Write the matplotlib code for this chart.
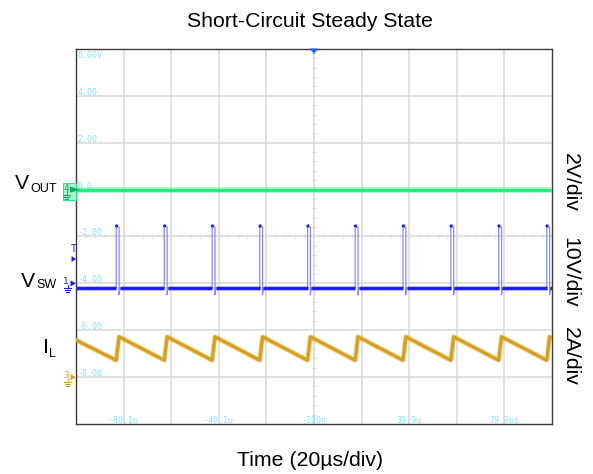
import numpy as np
import matplotlib
matplotlib.use("Agg")
import matplotlib.pyplot as plt
from matplotlib.transforms import Affine2D
from matplotlib.patches import Polygon, Rectangle

# ---- timebase / channel setup ----
time_div_us = 20.0
x_divs = 10
y_divs = 8

ch4_scale_v = 2.0      # VOUT, 2V/div
ch1_scale_v = 10.0     # VSW, 10V/div
ch3_scale_a = 2.0      # IL, 2A/div
ch4_offset_div = 1.0
ch1_offset_div = -1.0
ch3_offset_div = -3.0
trigger_level_v = 5.2

grid_labels = ["6.00V", "4.00", "2.00", "0.0", "-2.00", "-4.00", "-6.00", "-8.00"]
time_labels = ["-80.1u", "-40.1u", "-100n", "39.9u", "79.9us"]
time_label_pos_us = [-80, -40, 0, 40, 80]

# ---- switching events ----
sw_rise_us = [-83.1, -62.9, -42.8, -22.8, -2.7, 17.3, 37.4, 57.5, 77.6, 97.8]
on_time_us = 1.2
vsw_low_v = -1.0
vsw_high_v = 12.0
vsw_overshoot_v = 12.5
vsw_undershoot_v = -2.4

# ---- inductor current corners ----
il_start_a = 1.58
il_valley_a = 0.72
il_peak_a = 1.72
il_end_a = 1.67

vout_v = 0.0

# ---- colours ----
c_green = "#1ef07c"
c_blue = "#1a1aff"
c_blue_edge = "#8a8aff"
c_gold = "#d6a21c"
c_label = "#86e4ee"
c_grid = "#d8d8d8"
c_frame = "#3a3a3a"

DPI = 100
W, H = 593, 474
fig = plt.figure(figsize=(W / DPI, H / DPI), dpi=DPI)
fig.patch.set_facecolor("white")

x_min = -time_div_us * x_divs / 2
x_max = time_div_us * x_divs / 2
ax = fig.add_axes([76 / W, 1 - 424 / H, (552 - 76) / W, (424 - 49) / H])
ax.set_xlim(x_min, x_max)
ax.set_ylim(-y_divs / 2, y_divs / 2)
ax.set_xticks([])
ax.set_yticks([])
for s in ax.spines.values():
    s.set_color(c_frame)
    s.set_linewidth(1.0)

# graticule
for gx in np.arange(x_min + time_div_us, x_max, time_div_us):
    ax.axvline(gx, color=c_grid, lw=1.1, zorder=0)
for gy in np.arange(-y_divs / 2 + 1, y_divs / 2, 1):
    ax.axhline(gy, color=c_grid, lw=1.1, zorder=0)
# centre rulers with minor ticks
ax.plot(np.zeros(41), np.arange(-4, 4.01, 0.2), ls="none", marker="_",
        ms=3, mew=0.9, color="#dadada", zorder=0)
ax.plot(np.arange(x_min, x_max + 0.1, 4.0), np.zeros(51), ls="none", marker="|",
        ms=3, mew=0.9, color="#dadada", zorder=0)

# on-screen scale labels
for i, lab in enumerate(grid_labels):
    gy = y_divs / 2 - i
    yy = gy - 0.13 if i == 0 else gy + 0.075
    ax.text(x_min + 0.6, yy, lab, fontsize=6, family="DejaVu Sans Mono",
            color=c_label, va="center", ha="left", zorder=1)
for t, lab in zip(time_label_pos_us, time_labels):
    ax.text(t, -y_divs / 2 + 0.07, lab, fontsize=6, family="DejaVu Sans Mono",
            color=c_label, va="center", ha="center", zorder=1)


def to_div(values, scale, offset):
    return offset + np.asarray(values, dtype=float) / scale


# ---- VOUT ----
vx = [x_min, x_max]
vy = to_div([vout_v, vout_v], ch4_scale_v, ch4_offset_div)
ax.plot(vx, vy, color=c_green, lw=4.0, alpha=0.35, solid_capstyle="butt", zorder=3)
ax.plot(vx, vy, color=c_green, lw=2.3, solid_capstyle="butt", zorder=3)

# ---- VSW ----
sw_t, sw_v = [x_min], [vsw_low_v]
base_t, base_v = [], []
prev_end = x_min
for t in sw_rise_us:
    base_t += [prev_end, t, np.nan]
    base_v += [vsw_low_v, vsw_low_v, np.nan]
    sw_t += [t, t, t + 0.25, t + on_time_us, t + on_time_us, t + on_time_us + 0.3]
    sw_v += [vsw_low_v, vsw_overshoot_v, vsw_high_v, vsw_high_v, vsw_undershoot_v, vsw_low_v]
    prev_end = t + on_time_us + 0.3
base_t += [prev_end, x_max]
base_v += [vsw_low_v, vsw_low_v]
sw_t.append(x_max)
sw_v.append(vsw_low_v)

ax.plot(sw_t, to_div(sw_v, ch1_scale_v, ch1_offset_div), color=c_blue_edge, lw=0.9, zorder=4)
bt = np.array(base_t, dtype=float)
bv = to_div(base_v, ch1_scale_v, ch1_offset_div)
ax.plot(bt, bv, color=c_blue, lw=3.6, alpha=0.3, solid_capstyle="butt", zorder=4)
ax.plot(bt, bv, color=c_blue, lw=2.1, solid_capstyle="butt", zorder=4)
for t in sw_rise_us:
    ax.plot([t, t + 0.3], to_div([vsw_overshoot_v, vsw_high_v], ch1_scale_v, ch1_offset_div),
            color=c_blue, lw=2.2, solid_capstyle="butt", zorder=4)

# ---- IL ----
il_t, il_v = [x_min], [il_start_a]
for t in sw_rise_us:
    il_t += [t, t + on_time_us]
    il_v += [il_valley_a, il_peak_a]
il_t.append(x_max)
il_v.append(il_end_a)
iy = to_div(il_v, ch3_scale_a, ch3_offset_div)
ax.plot(il_t, iy, color=c_gold, lw=3.8, alpha=0.35, zorder=3)
ax.plot(il_t, iy, color=c_gold, lw=2.4, zorder=3)


# ---- channel ground / trigger markers (pixel-offset frames) ----
def frame_at(x, y):
    px, py = ax.transData.transform((x, y))
    return Affine2D().translate(px, py)


def ground(tr, cx, color):
    kw = dict(transform=tr, clip_on=False, color=color, lw=0.8, zorder=6)
    ax.plot([cx, cx], [-1.5, -5], **kw)
    ax.plot([cx - 3.5, cx + 3.5], [-5, -5], **kw)
    ax.plot([cx - 2.3, cx + 2.3], [-7, -7], **kw)
    ax.plot([cx - 1.1, cx + 1.1], [-9, -9], **kw)


def arrow(tr, color, x0=-5.5, x1=0):
    ax.add_patch(Polygon([(x0, 3), (x1, 0), (x0, -3)], closed=True, fc=color, ec="none",
                         transform=tr, clip_on=False, zorder=7))


# ch4 (boxed)
tr4 = frame_at(x_min, ch4_offset_div)
ax.add_patch(Rectangle((-13, -10), 13, 16.5, fc="#a6f7cf", ec="#2ee68a", lw=0.8,
                       transform=tr4, clip_on=False, zorder=5))
ax.text(-9.5, 1.5, "4", transform=tr4, fontsize=6.5, color="#15a85a", ha="center",
        va="center", clip_on=False, zorder=6)
ground(tr4, -9.5, "#15a85a")
arrow(tr4, "#15a85a", -6, 4)

# ch1
tr1 = frame_at(x_min, ch1_offset_div)
ax.text(-10, 1.5, "1", transform=tr1, fontsize=6.5, color=c_blue, ha="center",
        va="center", clip_on=False, zorder=6)
ground(tr1, -8.5, c_blue)
arrow(tr1, c_blue)

# trigger level
trT = frame_at(x_min, ch1_offset_div + trigger_level_v / ch1_scale_v)
ax.text(-3.5, 9.5, "T", transform=trT, fontsize=7, color=c_blue, ha="center",
        va="center", clip_on=False, zorder=6)
arrow(trT, c_blue, -4.5, 0)

# ch3
tr3 = frame_at(x_min, ch3_offset_div)
ax.text(-10, 1.5, "3", transform=tr3, fontsize=6.5, color=c_gold, ha="center",
        va="center", clip_on=False, zorder=6)
ground(tr3, -8.5, c_gold)
arrow(tr3, c_gold)

# trigger position marker on top edge
trP = frame_at(0, y_divs / 2)
ax.add_patch(Polygon([(-4.5, 0.5), (4.5, 0.5), (0, -5)], closed=True, fc="#1f66ff",
                     ec="none", transform=trP, clip_on=False, zorder=7))

# ---- text ----
font = "Liberation Sans"
fs = 15.3


def fx(x):
    return x / W


def fy(y):
    return 1 - y / H


fig.text(fx(310), fy(27), "Short-Circuit Steady State", fontsize=fs, family=font,
         ha="center", va="baseline")
fig.text(fx(310), fy(466), "Time (20\u00b5s/div)", fontsize=fs, family=font,
         ha="center", va="baseline")

for label, yc in [("2V/div", 182.5), ("10V/div", 272.5), ("2A/div", 356.5)]:
    fig.text(fx(570), fy(yc), label, fontsize=fs, family=font, rotation=-90,
             ha="center", va="center")

# channel names with subscripts
for main, sub, x_split, y_main, y_sub in [("V", "OUT", 29.5, 189, 191.5),
                                          ("V", "SW", 35.5, 287, 288.5),
                                          ("I", "L", 48.5, 353, 357)]:
    fig.text(fx(x_split), fy(y_main), main, fontsize=fs, family=font, ha="right",
             va="baseline")
    fig.text(fx(x_split + 0.5), fy(y_sub), sub, fontsize=9, family=font, ha="left",
             va="baseline")

fig.savefig("out.png", dpi=DPI, facecolor="white")
